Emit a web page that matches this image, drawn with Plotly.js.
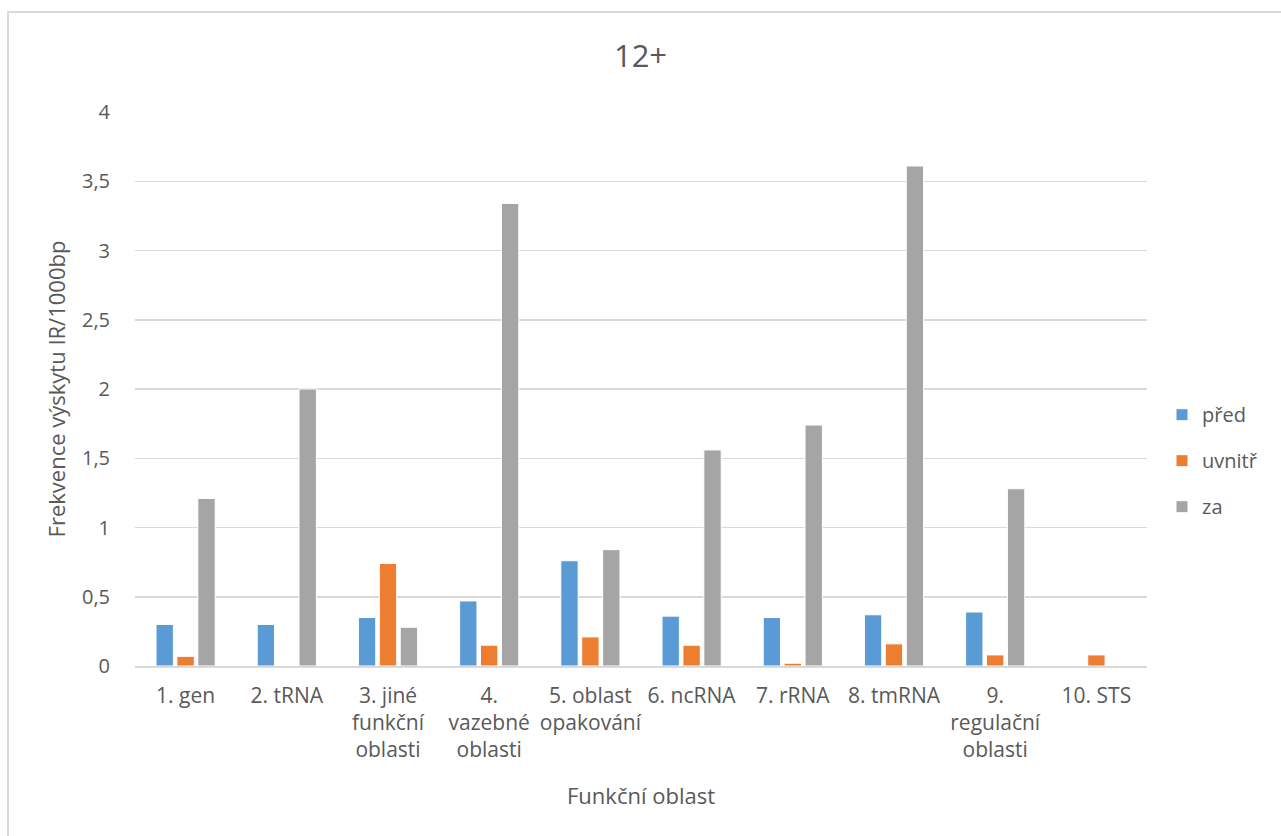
<!DOCTYPE html>
<html>
<head>
<meta charset="utf-8">
<script src="https://cdn.plot.ly/plotly-3.0.1.min.js"></script>
<style>
  html, body { margin: 0; padding: 0; background: #ffffff; }
  #chart { width: 1281px; height: 836px; }
</style>
</head>
<body>
<div id="chart"></div>
<script>
// Functional regions (x categories)
const categories = [
  "1. gen",
  "2. tRNA",
  "3. jiné<br>funkční<br>oblasti",
  "4.<br>vazebné<br>oblasti",
  "5. oblast<br>opakování",
  "6. ncRNA",
  "7. rRNA",
  "8. tmRNA",
  "9.<br>regulační<br>oblasti",
  "10. STS"
];

// Frequency of IR occurrence per 1000 bp
const pred   = [0.30, 0.30, 0.35, 0.47, 0.76, 0.36, 0.35, 0.37, 0.39, 0];
const uvnitr = [0.07, 0,    0.74, 0.15, 0.21, 0.15, 0.02, 0.16, 0.08, 0.08];
const za     = [1.21, 2.00, 0.28, 3.34, 0.84, 1.56, 1.74, 3.61, 1.28, 0];

const seriesNames = ["před", "uvnitř", "za"];
const yTicks = [0, 0.5, 1, 1.5, 2, 2.5, 3, 3.5, 4];

const textColor = "#595959";
const fontFamily = "'Open Sans', 'Noto Sans', sans-serif";

function barTrace(name, values, color) {
  return {
    type: "bar",
    name: name,
    x: categories,
    y: values,
    legendgroup: name,
    marker: { color: color, line: { color: "#ffffff", width: 1 } },
    hoverinfo: "skip"
  };
}

const data = [
  barTrace(seriesNames[0], pred, "#5B9BD5"),
  barTrace(seriesNames[1], uvnitr, "#ED7D31"),
  barTrace(seriesNames[2], za, "#A5A5A5")
];

// plot area spans x 135..1147 px, y 112..666.5 px
const L = 135, R = 1147, T = 112, B = 666.5;
const px = v => (v - L) / (R - L);
const py = v => (B - v) / (B - T);

const layout = {
  width: 1281,
  height: 836,
  margin: { l: L, r: 1281 - R, t: T, b: 836 - B, pad: 0 },
  paper_bgcolor: "#ffffff",
  plot_bgcolor: "#ffffff",
  separators: ", ",
  font: { family: fontFamily, color: textColor, size: 20 },
  title: {
    text: "12+",
    font: { size: 31, color: textColor, family: fontFamily },
    x: 0.5, xanchor: "center",
    y: 58, yref: "container", yanchor: "middle"
  },
  barmode: "group",
  bargap: 0.38,
  bargroupgap: 0.17,
  showlegend: true,
  legend: {
    x: px(1162), xanchor: "left",
    y: py(461), yanchor: "middle",
    font: { size: 20, color: textColor, family: fontFamily },
    traceorder: "grouped",
    tracegroupgap: 17,
    bgcolor: "rgba(0,0,0,0)"
  },
  xaxis: {
    type: "category",
    tickfont: { size: 21, color: textColor, family: fontFamily },
    ticks: "outside",
    ticklen: 10,
    tickcolor: "rgba(0,0,0,0)",
    showgrid: false,
    showline: true,
    linecolor: "#D9D9D9",
    linewidth: 1.5,
    zeroline: false,
    title: {
      text: "Funkční oblast",
      font: { size: 22, color: textColor, family: fontFamily },
      standoff: 26
    },
    fixedrange: true
  },
  yaxis: {
    range: [0, 4],
    tickvals: yTicks,
    ticktext: yTicks.map(v => String(v).replace(".", ",")),
    tickfont: { size: 20, color: textColor, family: fontFamily },
    ticks: "outside",
    ticklen: 20,
    tickcolor: "rgba(0,0,0,0)",
    showgrid: true,
    gridcolor: "#D9D9D9",
    gridwidth: 1.5,
    zeroline: false,
    showline: false,
    title: {
      text: "Frekvence výskytu IR/1000bp",
      font: { size: 22, color: textColor, family: fontFamily },
      standoff: 10
    },
    fixedrange: true
  },
  shapes: [
    {
      type: "rect",
      xref: "paper", yref: "paper",
      x0: px(8), x1: px(1300),
      y0: py(860), y1: py(12),
      line: { color: "#D9D9D9", width: 2 },
      fillcolor: "rgba(0,0,0,0)",
      layer: "below"
    }
  ]
};

Plotly.newPlot("chart", data, layout, { displayModeBar: false, staticPlot: true });
</script>
</body>
</html>
